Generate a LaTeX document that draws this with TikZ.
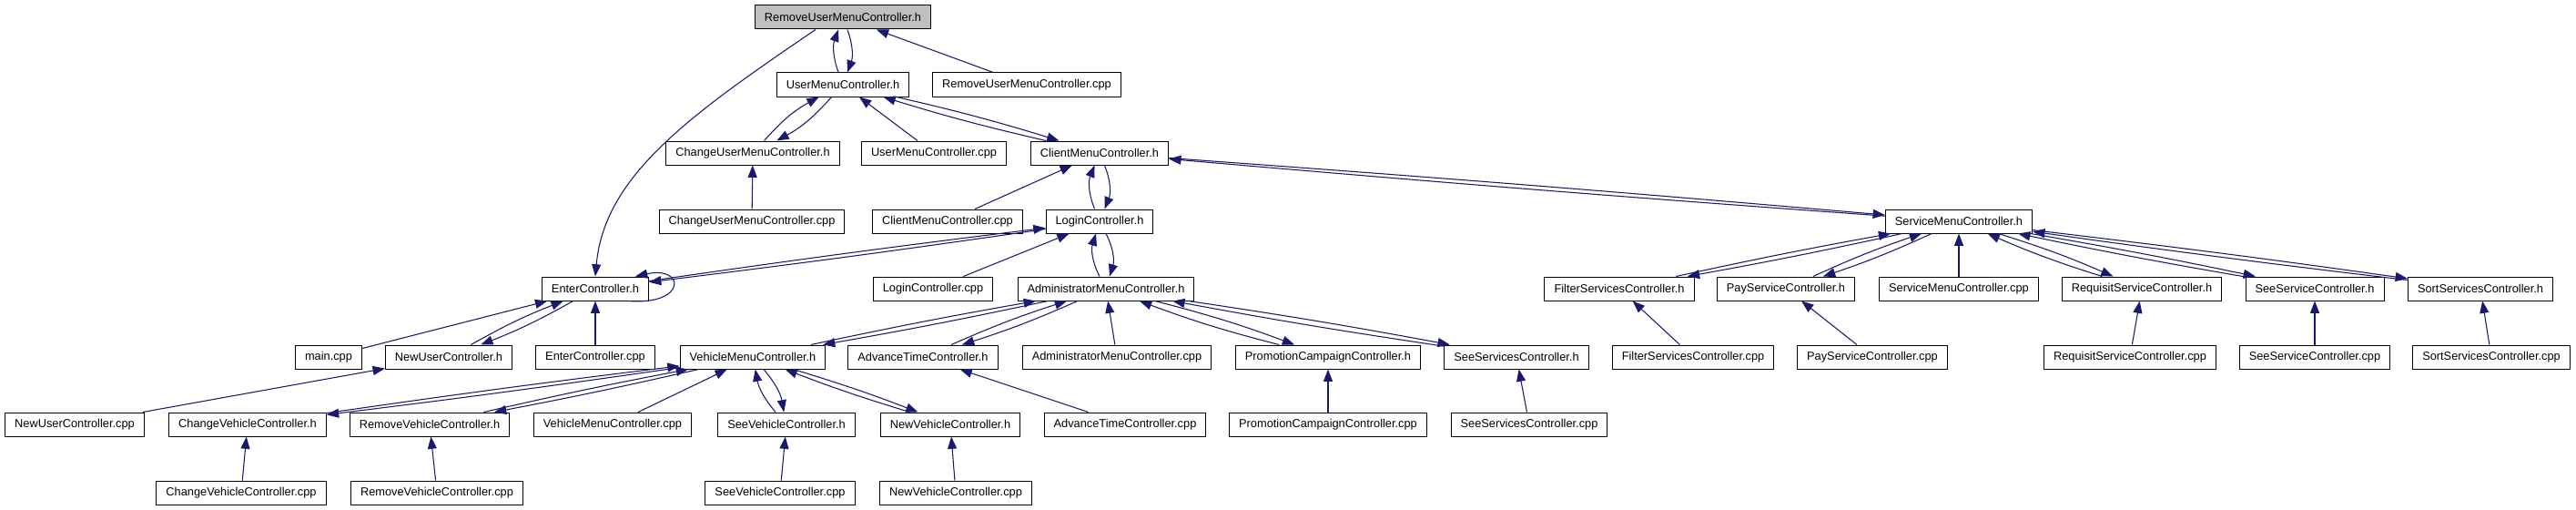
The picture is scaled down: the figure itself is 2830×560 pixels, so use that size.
\documentclass[tikz,border=0pt]{standalone}
\usepackage{fontspec}
\setmainfont{Liberation Sans}
\usetikzlibrary{arrows.meta}
\definecolor{EdgeBlue}{HTML}{191970}
\definecolor{HeadGray}{HTML}{BFBFBF}

\begin{document}
\begin{tikzpicture}[x=0.75pt,y=-0.75pt,
  file/.style={draw=black,line width=0.75pt,fill=white,minimum height=19.5pt,
    inner xsep=7.9pt,inner ysep=0pt,font=\fontsize{9.6pt}{11pt}\selectfont},
  dep/.style={EdgeBlue,line width=0.8pt,-{Triangle[length=10pt,width=7.5pt]}}]
\useasboundingbox (0,0) rectangle (2830,560);
\node[file,fill=HeadGray] (rumh) at (926,19) {RemoveUserMenuController.h};
\foreach \n/\x/\y/\t in {
  umh/926/93/UserMenuController.h, rumcpp/1128/93/RemoveUserMenuController.cpp,
  cumh/827/168/ChangeUserMenuController.h, umcpp/1026/168/UserMenuController.cpp,
  cmh/1208/168/ClientMenuController.h,
  cumcpp/826/243/ChangeUserMenuController.cpp, cmcpp/1041/243/ClientMenuController.cpp,
  loginh/1208/243/LoginController.h, smh/2152/243/ServiceMenuController.h,
  enterh/654/317/EnterController.h, logincpp/1025/317/LoginController.cpp,
  adminh/1215/317/AdministratorMenuController.h, fsh/1779/317/FilterServicesController.h,
  psh/1962/317/PayServiceController.h, smcpp/2152/317/ServiceMenuController.cpp,
  rsh/2353/317/RequisitServiceController.h, seeserh/2543/317/SeeServiceController.h,
  sortsh/2725/317/SortServicesController.h,
  maincpp/361/392/main.cpp, nuh/493/392/NewUserController.h,
  entercpp/654/392/EnterController.cpp, vmh/827/392/VehicleMenuController.h,
  ath/1014/392/AdvanceTimeController.h, admincpp/1227/392/AdministratorMenuController.cpp,
  pcch/1459/392/PromotionCampaignController.h, ssh/1666/392/SeeServicesController.h,
  fscpp/1860/392/FilterServicesController.cpp, pscpp/2057/392/PayServiceController.cpp,
  rscpp/2340/392/RequisitServiceController.cpp, seesercpp/2543/392/SeeServiceController.cpp,
  sortscpp/2737/392/SortServicesController.cpp,
  nucpp/82/466/NewUserController.cpp, cvh/272/466/ChangeVehicleController.h,
  rvh/472/466/RemoveVehicleController.h, vmcpp/673/466/VehicleMenuController.cpp,
  svh/864/466/SeeVehicleController.h, nvh/1044/466/NewVehicleController.h,
  atcpp/1236/466/AdvanceTimeController.cpp, pcccpp/1459/466/PromotionCampaignController.cpp,
  sscpp/1680/466/SeeServicesController.cpp,
  cvcpp/265/541/ChangeVehicleController.cpp, rvcpp/480/541/RemoveVehicleController.cpp,
  svcpp/857/541/SeeVehicleController.cpp, nvcpp/1050/541/NewVehicleController.cpp}
  \node[file] (\n) at (\x,\y) {\t};

\foreach \a/\b in {rumcpp/rumh, umcpp/umh, cumcpp/cumh, cmcpp/cmh, logincpp/loginh,
  maincpp/enterh, entercpp/enterh, nucpp/nuh, admincpp/adminh, vmcpp/vmh, atcpp/ath,
  pcccpp/pcch, sscpp/ssh, cvcpp/cvh, rvcpp/rvh, svcpp/svh, nvcpp/nvh, fscpp/fsh,
  pscpp/psh, smcpp/smh, rscpp/rsh, seesercpp/seeserh, sortscpp/sortsh}
  \draw[dep] (\a) -- (\b);

\foreach \a/\b/\t in {umh/rumh/20, cumh/umh/10, cmh/umh/2, loginh/cmh/22, smh/cmh/0.4,
  loginh/enterh/0.6, adminh/loginh/22, nuh/enterh/4, vmh/adminh/1, ath/adminh/3,
  pcch/adminh/3, ssh/adminh/1, cvh/vmh/0.6, rvh/vmh/1, svh/vmh/15, nvh/vmh/2,
  fsh/smh/1, psh/smh/3, rsh/smh/3, seeserh/smh/1, sortsh/smh/0.6}{
  \draw[dep] (\a) to[bend left=\t] (\b);
  \draw[dep] (\b) to[bend left=\t] (\a);
}

\draw[dep] ([shift={(-30,0)}]rumh.south) .. controls +(-140,95) and +(10,-110) .. (enterh.north);
\draw[dep] ([shift={(36,0)}]enterh.south) .. controls +(65,5) and +(55,-12) .. ([shift={(44,0)}]enterh.north);
\end{tikzpicture}
\end{document}
